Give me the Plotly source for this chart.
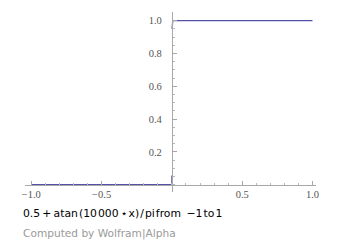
import plotly.graph_objects as go

# Curve (None = gap where the curve is hidden by the jump)
curve_x = [-1.0, -0.5, -0.001, 0.0, 0.0, None, 0.001, 0.001, 0.006, 0.5, 1.0]
curve_y = [0.0, 0.0, 0.0, 0.0, 0.055, None, 0.95, 0.985, 1.0, 1.0, 1.0]

x_tick_vals = [-1.0, -0.5, 0.5, 1.0]
x_tick_text = ["\u22121.0", "\u22120.5", "0.5", "1.0"]
y_tick_vals = [0.2, 0.4, 0.6, 0.8, 1.0]
y_tick_text = ["0.2", "0.4", "0.6", "0.8", "1.0"]

x_range = [-1.045, 1.025]
y_range = [-0.045, 1.053]

HS = "\u200a"   # hair space
TS = "\u2009"   # thin space
title_text = ("0.5" + TS + "+" + TS + "atan" + HS + "(10" + HS + "000" + TS + "\u22c6" + HS + "x)"
              + HS + "/" + HS + "pi" + HS + "from" + TS + " \u2212" + "1" + HS + "to" + HS + "1")
credit_text = "Computed by Wolfram|Alpha"

fig = go.Figure()
fig.add_trace(go.Scatter(
    x=curve_x, y=curve_y, mode="lines",
    line=dict(color="#5252a6", width=1.3),
    connectgaps=False, hoverinfo="skip", showlegend=False,
))

tick_font = dict(family="Liberation Serif, Times New Roman, serif", size=10.5, color="#555555")

x_pos = (0 - y_range[0]) / (y_range[1] - y_range[0])
y_pos = (0 - x_range[0]) / (x_range[1] - x_range[0])

fig.update_layout(
    width=360, height=251,
    margin=dict(l=25, r=44, t=12, b=59, pad=0),
    paper_bgcolor="white", plot_bgcolor="white",
    xaxis=dict(
        range=x_range, anchor="free", position=x_pos,
        showgrid=False, zeroline=False,
        showline=True, linecolor="#a8a8a8", linewidth=1,
        ticks="inside", ticklen=4, tickwidth=1, tickcolor="#a8a8a8",
        tickvals=x_tick_vals, ticktext=x_tick_text, tickfont=tick_font,
        minor=dict(dtick=0.1, tick0=0, ticks="inside", ticklen=2, tickcolor="#b8b8b8", showgrid=False),
        fixedrange=True,
    ),
    yaxis=dict(
        range=y_range, anchor="free", position=y_pos,
        showgrid=False, zeroline=False,
        showline=True, linecolor="#a8a8a8", linewidth=1,
        ticks="inside", ticklen=4, tickwidth=1, tickcolor="#a8a8a8",
        tickvals=y_tick_vals, ticktext=y_tick_text, tickfont=tick_font,
        ticklabelstandoff=8,
        minor=dict(dtick=0.05, tick0=0, ticks="inside", ticklen=2, tickcolor="#b8b8b8", showgrid=False),
        fixedrange=True,
    ),
    annotations=[
        dict(text=title_text, xref="paper", yref="paper", x=-0.015, y=-0.12,
             xanchor="left", yanchor="middle", showarrow=False,
             font=dict(family="DejaVu Sans", size=10.8, color="#000000")),
        dict(text=credit_text, xref="paper", yref="paper", x=-0.015, y=-0.232,
             xanchor="left", yanchor="middle", showarrow=False,
             font=dict(family="DejaVu Sans", size=10.6, color="#9a9a9a")),
    ],
)

fig.write_html("out.html", config={"displayModeBar": False})
